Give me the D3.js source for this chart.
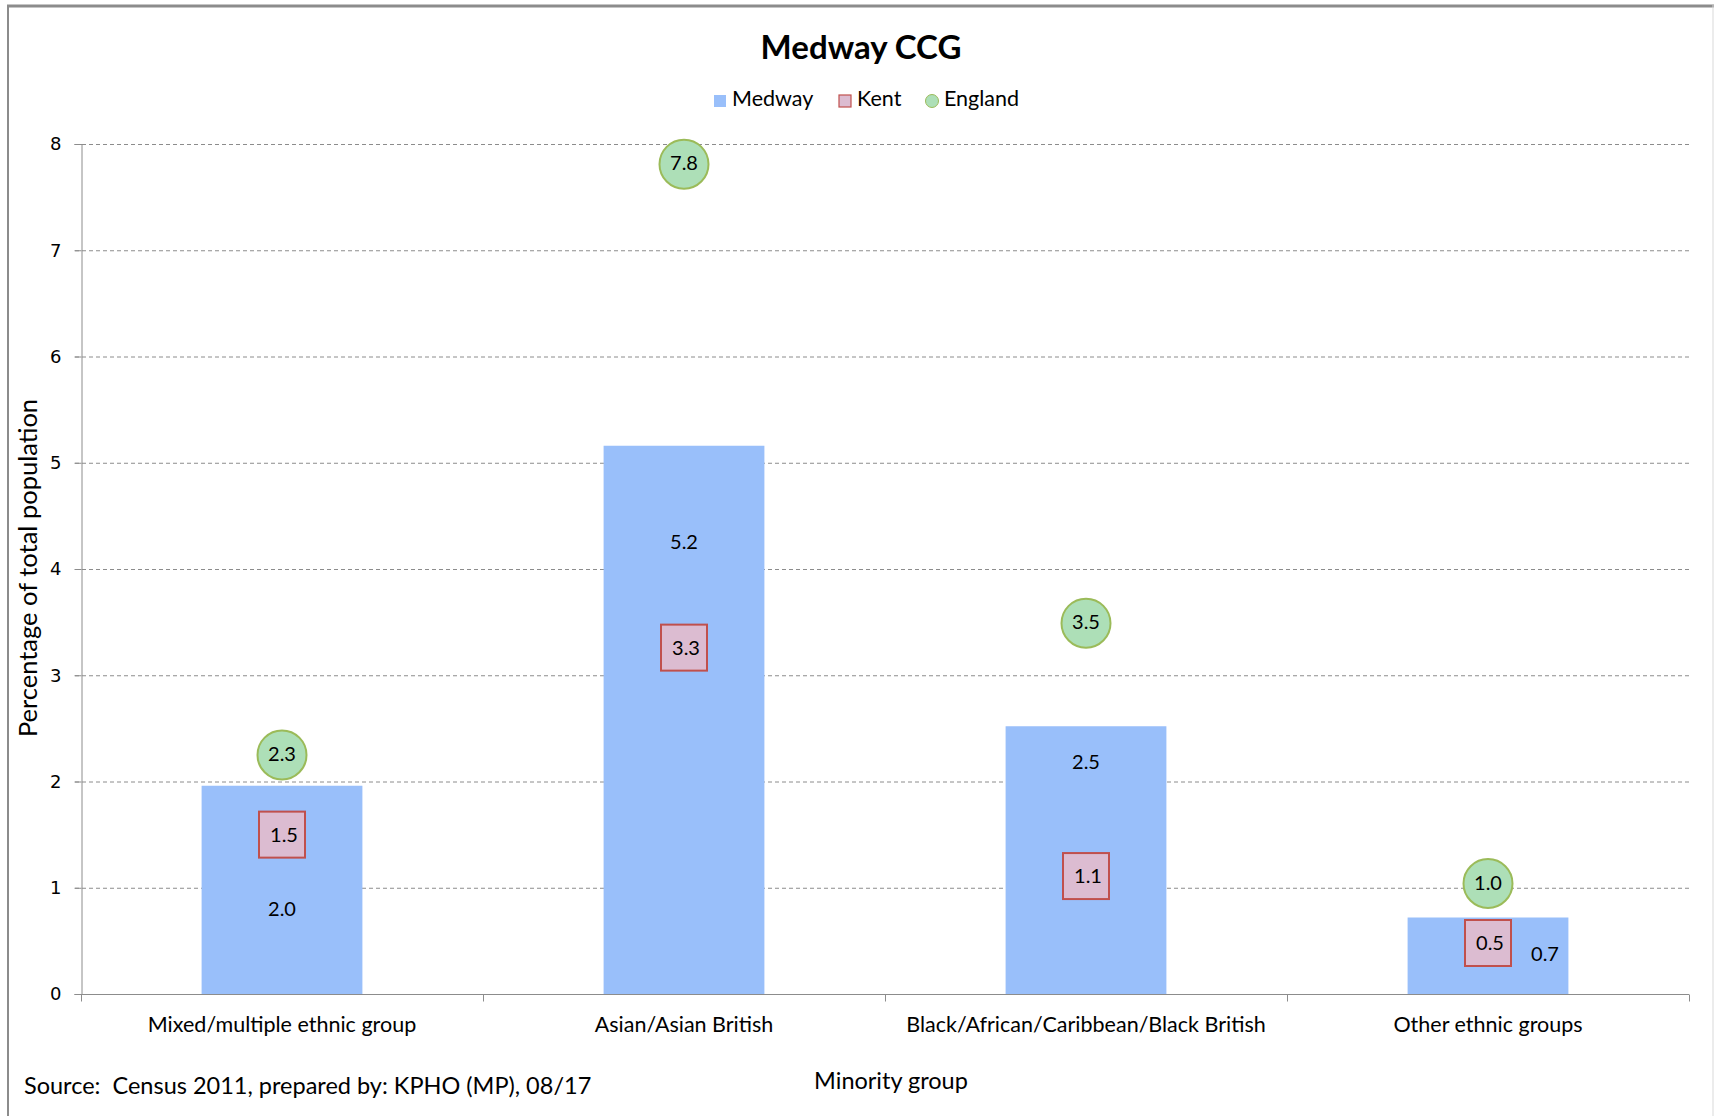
<!DOCTYPE html>
<html lang="en">
<head>
  <meta charset="UTF-8" />
  <title>Medway CCG</title>
  <style>
    html, body { margin: 0; padding: 0; background: #fff; }
    svg { display: block; font-family: Lato, "Open Sans", sans-serif; }
  </style>
</head>
<body>
<div id="chart"></div>
<script src="https://d3js.org/d3.v7.min.js"></script>
<script>
  // data
  const groups = ['Mixed/multiple ethnic group', 'Asian/Asian British', 'Black/African/Caribbean/Black British', 'Other ethnic groups'];
  const medway = [1.96, 5.16, 2.52, 0.72];
  const kent = [1.5, 3.26, 1.11, 0.48];
  const england = [2.25, 7.81, 3.49, 1.04];
  // where the medway labels sit (in axis units)
  const medwayLabelAt = [0.78, 4.24, 2.17, 0.36];
  const yTicks = [0, 1, 2, 3, 4, 5, 6, 7, 8];

  const W = 1714, H = 1116;
  const margin = {left: 81, right: 25, top: 144, bottom: 122};

  const svg = d3.select('#chart').append('svg').attr('width', W).attr('height', H);

  // outer frame
  svg.append('line').attr('x1', 7).attr('x2', W).attr('y1', 6).attr('y2', 6)
     .attr('stroke', '#8c8c8c').attr('stroke-width', 3);
  svg.append('line').attr('x1', 8).attr('x2', 8).attr('y1', 5).attr('y2', H)
     .attr('stroke', '#8c8c8c').attr('stroke-width', 2);
  svg.append('line').attr('x1', 1713).attr('x2', 1713).attr('y1', 5).attr('y2', H)
     .attr('stroke', '#d9d9d9').attr('stroke-width', 1);

  const x = d3.scaleBand().domain(groups)
    .range([margin.left, W - margin.right]).paddingInner(0.6).paddingOuter(0.3);
  const y = d3.scaleLinear().domain([0, 8]).range([H - margin.bottom, margin.top]);

  // grid
  svg.append('g').selectAll('line').data(yTicks.slice(1)).join('line')
     .attr('x1', margin.left - 6).attr('x2', W - margin.right)
     .attr('y1', d => y(d) + 0.5).attr('y2', d => y(d) + 0.5)
     .attr('stroke', '#8c8c8c').attr('stroke-dasharray', '4,3');

  // y axis
  const ya = svg.append('g').attr('transform', `translate(${margin.left + 0.5},0)`)
     .call(d3.axisLeft(y).tickValues(yTicks).tickSize(7).tickFormat(d3.format('d')));
  ya.select('.domain').attr('stroke', '#8c8c8c');
  ya.selectAll('.tick line').attr('stroke', '#8c8c8c');
  ya.selectAll('text').attr('font-size', 18).attr('fill', '#000').attr('x', -20)
    .attr('font-family', 'Verdana, "DejaVu Sans", sans-serif');

  // bars
  svg.append('g').selectAll('rect').data(groups).join('rect')
     .attr('x', d => x(d)).attr('width', x.bandwidth())
     .attr('y', (d, i) => y(medway[i])).attr('height', (d, i) => y(0) - y(medway[i]))
     .attr('fill', '#99bffa');

  // x axis
  const xa = svg.append('g').attr('transform', `translate(0,${y(0) + 0.5})`);
  xa.append('line').attr('x1', margin.left).attr('x2', W - margin.right).attr('stroke', '#8c8c8c');
  const edges = d3.range(groups.length + 1).map(i => margin.left + i * x.step());
  xa.selectAll('line.tk').data(edges).join('line').attr('class', 'tk')
    .attr('x1', d => d + 0.5).attr('x2', d => d + 0.5).attr('y1', 0).attr('y2', 7)
    .attr('stroke', '#8c8c8c');
  xa.selectAll('text').data(groups).join('text')
    .attr('x', d => x(d) + x.bandwidth() / 2).attr('y', 32)
    .attr('text-anchor', 'middle').attr('dominant-baseline', 'middle')
    .attr('font-size', 21.5).text(d => d);

  // medway labels
  svg.append('g').selectAll('text').data(groups).join('text')
     .attr('x', (d, i) => x(d) + x.bandwidth() / 2 + (i === 3 ? 57 : 0))
     .attr('y', (d, i) => y(medwayLabelAt[i]))
     .attr('text-anchor', 'middle').attr('dominant-baseline', 'middle')
     .attr('font-size', 20).text((d, i) => medway[i].toFixed(1));

  // kent squares
  const sq = 46;
  const kg = svg.append('g').selectAll('g').data(groups).join('g')
     .attr('transform', (d, i) => `translate(${x(d) + x.bandwidth() / 2},${y(kent[i])})`);
  kg.append('rect').attr('x', -sq / 2).attr('y', -sq / 2).attr('width', sq).attr('height', sq)
    .attr('fill', '#dcbcd1').attr('stroke', '#c0504d').attr('stroke-width', 2);
  kg.append('text').attr('text-anchor', 'middle').attr('dominant-baseline', 'middle')
    .attr('x', 2).attr('y', 2).attr('font-size', 20).text((d, i) => kent[i].toFixed(1));

  // england circles
  const eg = svg.append('g').selectAll('g').data(groups).join('g')
     .attr('transform', (d, i) => `translate(${x(d) + x.bandwidth() / 2},${y(england[i])})`);
  eg.append('circle').attr('r', 24.5)
    .attr('fill', '#addfb7').attr('stroke', '#9bbb59').attr('stroke-width', 2);
  eg.append('text').attr('text-anchor', 'middle').attr('dominant-baseline', 'middle')
    .attr('y', 1).attr('font-size', 20).text((d, i) => england[i].toFixed(1));

  // titles
  svg.append('text').attr('x', 861).attr('y', 51).attr('text-anchor', 'middle')
     .attr('dominant-baseline', 'middle').attr('font-size', 33).attr('font-weight', 'bold')
     .text('Medway CCG');
  svg.append('text').attr('transform', `translate(31,568) rotate(-90)`)
     .attr('text-anchor', 'middle').attr('dominant-baseline', 'middle')
     .attr('font-size', 25.5).text('Percentage of total population');
  svg.append('text').attr('x', 891).attr('y', 1083).attr('text-anchor', 'middle')
     .attr('dominant-baseline', 'middle').attr('font-size', 23.5).text('Minority group');
  svg.append('text').attr('x', 24).attr('y', 1088)
     .attr('dominant-baseline', 'middle').attr('font-size', 23.5)
     .style('white-space', 'pre')
     .text('Source:  Census 2011, prepared by: KPHO (MP), 08/17');

  // legend
  const lg = svg.append('g').attr('transform', 'translate(0,101)');
  lg.append('rect').attr('x', 714).attr('y', -6).attr('width', 12).attr('height', 12).attr('fill', '#99bffa');
  lg.append('text').attr('x', 732).attr('dominant-baseline', 'middle').attr('font-size', 21.5).text('Medway');
  lg.append('rect').attr('x', 839).attr('y', -6).attr('width', 12).attr('height', 12)
    .attr('fill', '#dcbcd1').attr('stroke', '#c0504d').attr('stroke-width', 1.2);
  lg.append('text').attr('x', 857).attr('dominant-baseline', 'middle').attr('font-size', 21.5).text('Kent');
  lg.append('circle').attr('cx', 932).attr('r', 6.5)
    .attr('fill', '#addfb7').attr('stroke', '#9bbb59').attr('stroke-width', 1);
  lg.append('text').attr('x', 944).attr('dominant-baseline', 'middle').attr('font-size', 21.5).text('England');
</script>
</body>
</html>
